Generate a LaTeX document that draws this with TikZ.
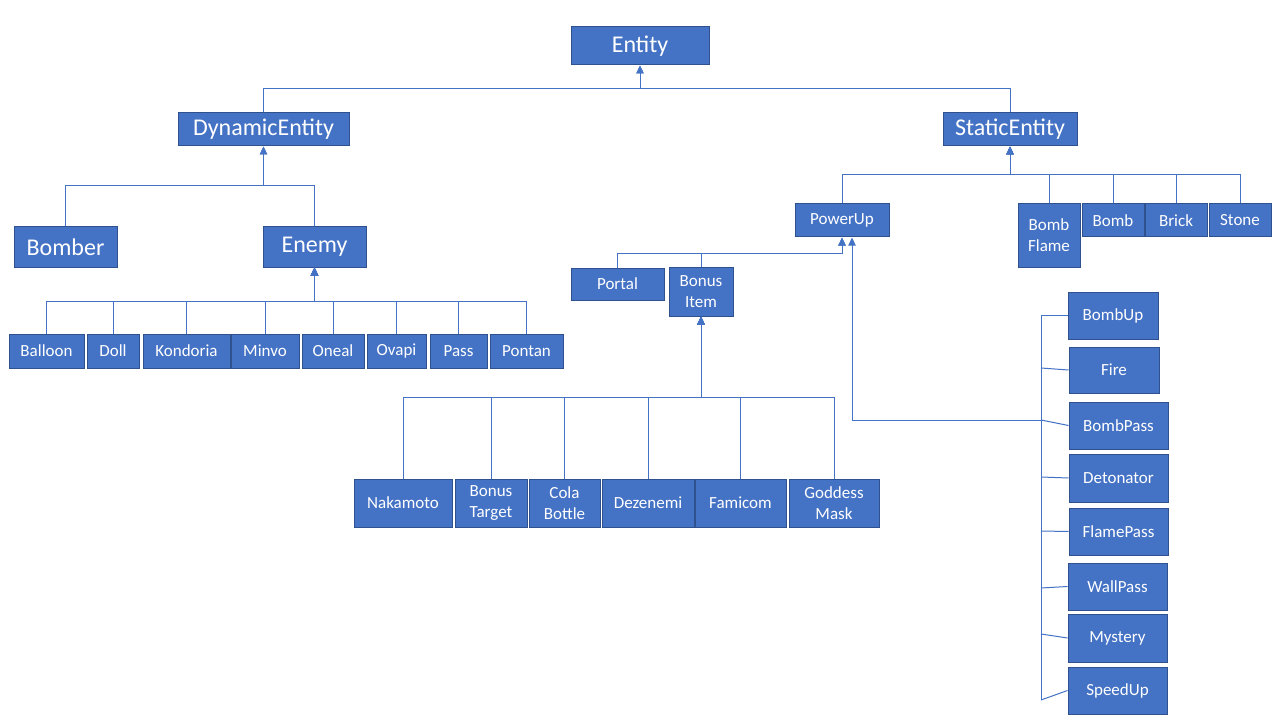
\documentclass[tikz,border=0pt]{standalone}
\usepackage{fontspec}
\setmainfont{Carlito}
\usetikzlibrary{arrows.meta}
\definecolor{boxfill}{HTML}{4472C4}
\definecolor{boxline}{HTML}{2F528F}
\definecolor{conncol}{HTML}{4472C4}
\begin{document}
\begin{tikzpicture}[x=0.75pt,y=-0.75pt,
  box/.style={draw=boxline, fill=boxfill, line width=0.75pt, text=white, inner sep=0pt, align=center, font=\fontsize{12.75}{15.75}\selectfont},
  big/.style={font=\fontsize{18}{22}\selectfont},
  sz/.style 2 args={minimum width=#1*0.75pt, minimum height=#2*0.75pt},
  conn/.style={draw=conncol, line width=0.75pt, -{Triangle[width=5.5pt,length=6pt]}},
  bus/.style={draw=conncol, line width=0.75pt}]
\fill[white] (0,0) rectangle (1280,720);
\useasboundingbox (0,0) rectangle (1280,720);

% top levels
\node[box,big,sz={138}{38}] (entity) at (640,46) {Entity};
\node[box,big,sz={171}{33}] (dyn) at (263.5,129.5) {DynamicEntity};
\node[box,big,sz={134}{33}] (stat) at (1010,129.5) {StaticEntity};
\node[box,big,sz={103}{40}] (bomber) at (65.5,247) {Bomber};
\node[box,big,sz={103}{40}] (enemy) at (314.5,247) {Enemy};

% enemies
\node[box,sz={75}{34}] (balloon) at (46.5,351) {Balloon};
\node[box,sz={52}{34}] (doll) at (113,351) {Doll};
\node[box,sz={87}{34}] (kondoria) at (186.5,351) {Kondoria};
\node[box,sz={68}{34}] (minvo) at (265,351) {Minvo};
\node[box,sz={62}{34}] (oneal) at (333,351) {Oneal};
\node[box,sz={59}{34}] (ovapi) at (396.5,351) {Ovapi};
\node[box,sz={57}{34}] (pass) at (458.5,351) {Pass};
\node[box,sz={73}{34}] (pontan) at (526.5,351) {Pontan};

% static
\node[box,sz={94}{33}] (powerup) at (842,220.5) {PowerUp};
\node[box,sz={62}{63}] (bombflame) at (1049,235.5) {Bomb\\Flame};
\node[box,sz={62}{33}] (bomb) at (1113,220.5) {Bomb};
\node[box,sz={62}{33}] (brick) at (1176,220.5) {Brick};
\node[box,sz={62}{33}] (stone) at (1240,220.5) {Stone};

\node[box,sz={93}{32}] (portal) at (617.5,284) {Portal};
\node[box,sz={64}{49}] (bonusitem) at (701,291.5) {Bonus\\Item};

% bonus items
\node[box,sz={98}{48}] (nakamoto) at (403,503) {Nakamoto};
\node[box,sz={72}{48}] (bonustarget) at (491,503) {Bonus\\Target};
\node[box,sz={71}{48}] (colabottle) at (564.5,503) {Cola\\Bottle};
\node[box,sz={92}{48}] (dezenemi) at (648,503) {Dezenemi};
\node[box,sz={91}{48}] (famicom) at (740.5,503) {Famicom};
\node[box,sz={90}{48}] (goddessmask) at (834,503) {Goddess\\Mask};

% power-up column
\node[box,sz={90}{47}] (bombup) at (1113,315.5) {BombUp};
\node[box,sz={90}{46}] (fire) at (1114,370) {Fire};
\node[box,sz={99}{47}] (bombpass) at (1118.5,425.5) {BombPass};
\node[box,sz={99}{48}] (detonator) at (1118.5,478) {Detonator};
\node[box,sz={99}{47}] (flamepass) at (1118.5,531.5) {FlamePass};
\node[box,sz={99}{47}] (wallpass) at (1117.5,586.5) {WallPass};
\node[box,sz={99}{48}] (mystery) at (1117.5,638) {Mystery};
\node[box,sz={99}{47}] (speedup) at (1117.5,690.5) {SpeedUp};

% junctions
\coordinate (eJ) at (640,89);
\coordinate (dJ) at (263.5,186);
\coordinate (nJ) at (314.5,301);
\coordinate (sJ) at (1010,175);
\coordinate (pJ) at (842,253);
\coordinate (bJ) at (701,397);

\foreach \c in {dyn,stat} \draw[conn] (\c.north) |- (eJ) -- (entity.south);
\foreach \c in {bomber,enemy} \draw[conn] (\c.north) |- (dJ) -- (dyn.south);
\foreach \c in {balloon,doll,kondoria,minvo,oneal,ovapi,pass,pontan}
  \draw[conn] (\c.north) |- (nJ) -- (enemy.south);
\foreach \c in {powerup,bombflame,bomb,brick,stone}
  \draw[conn] (\c.north) |- (sJ) -- (stat.south);
\foreach \c in {portal,bonusitem}
  \draw[conn] (\c.north) |- (pJ) -- (powerup.south);
\foreach \c in {nakamoto,bonustarget,colabottle,dezenemi,famicom,goddessmask}
  \draw[conn] (\c.north) |- (bJ) -- (bonusitem.south);

% right bus
\coordinate (r1) at (1041,315.5);
\coordinate (r2) at (1041,368);
\coordinate (r3) at (1041,420);
\coordinate (r4) at (1041,477);
\coordinate (r5) at (1041,531);
\coordinate (r6) at (1041,588);
\coordinate (r7) at (1041,634);
\coordinate (r8) at (1041,700);
\draw[bus] (r1) -- (r8);
\draw[bus] (r1) -- (bombup.west);
\draw[bus] (r2) -- (fire.west);
\draw[bus] (r3) -- (bombpass.west);
\draw[bus] (r4) -- (detonator.west);
\draw[bus] (r5) -- (flamepass.west);
\draw[bus] (r6) -- (wallpass.west);
\draw[bus] (r7) -- (mystery.west);
\draw[bus] (r8) -- (speedup.west);
\draw[conn] (r3) -| ([xshift=7.5pt]powerup.south);
\end{tikzpicture}
\end{document}
